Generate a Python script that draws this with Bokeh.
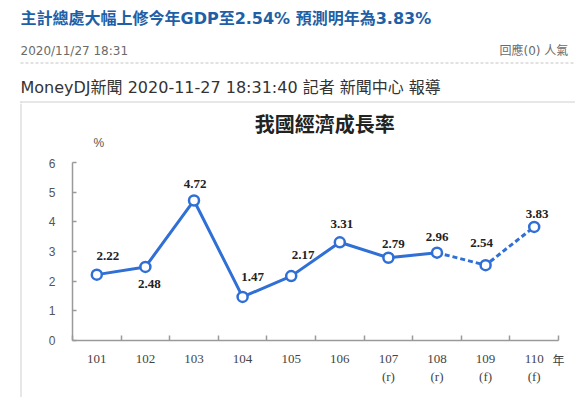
from bokeh.plotting import figure
from bokeh.layouts import column, row
from bokeh.models import Range1d, FixedTicker, Label, BoxAnnotation, ColumnDataSource
from bokeh.core.properties import value
from bokeh.embed import file_html
from bokeh.resources import INLINE

# ---- data ----
years = ["101", "102", "103", "104", "105", "106", "107", "108", "109", "110"]
status = ["", "", "", "", "", "", "r", "r", "f", "f"]   # r = revised, f = forecast
growth = [2.22, 2.48, 4.72, 1.47, 2.17, 3.31, 2.79, 2.96, 2.54, 3.83]
y_ticks = [0, 1, 2, 3, 4, 5, 6]

headline = "主計總處大幅上修今年GDP至2.54% 預測明年為3.83%"
post_date = "2020/11/27 18:31"
post_meta = "回應(0) 人氣"
byline = "MoneyDJ新聞 2020-11-27 18:31:40 記者 新聞中心 報導"
chart_title = "我國經濟成長率"
y_unit = "%"
x_unit = "年"

# ---- styling ----
lab_dx = [11, 4, 1, 10, 12, 2, 5, 0, -4, 3]
lab_dy = [-19, 17, -16, -20, -21, -18, -14, -16, -22, -13]

W, H = 575, 397
HDR_H = 103          # header block height
STRIP_W = 22         # strip carrying the left edge of the picture frame
TTL_H = 55           # chart-title block height
FL, FR, FT, FB = 72, 558, 162, 340   # chart frame edges on the page
BLUE = "#2f6fd6"
AXIS = "#9a9a9a"
EDGE = "#d0d0d0"
PAGE_FONT = "DejaVu Sans, Noto Sans CJK TC"

def blank(width, height, flip=True):
    f = figure(width=width, height=height, output_backend="svg", toolbar_location=None,
               x_range=Range1d(0, width),
               y_range=Range1d(height, 0) if flip else Range1d(0, height),
               x_axis_location=None, y_axis_location=None, min_border=0)
    f.grid.visible = False
    f.outline_line_color = None
    return f

def put(f, x, y, text, size, color, font=PAGE_FONT, style="normal", align="left"):
    f.add_layout(Label(x=x, y=y, text=text, text_font=font, text_font_size=size,
                       text_color=color, text_font_style=style,
                       text_align=align, text_baseline="middle"))

# ---------------- header ----------------
hdr = blank(W, HDR_H)
put(hdr, 20, 18, headline, "16px", "#1f5fa6", style="bold")
put(hdr, 20, 50, post_date, "12px", "#6a6a6a")
put(hdr, 499, 50, post_meta, "12px", "#6a6a6a")
put(hdr, 20, 87, byline, "16px", "#333333")
hdr.segment(x0=[20], y0=[62.5], x1=[W], y1=[62.5], line_color="#c4c4c4", line_width=1, line_dash="3 2")
hdr.add_layout(BoxAnnotation(left=20, right=W, bottom=HDR_H - 2, top=HDR_H - 1,
                             fill_color=EDGE, fill_alpha=1, line_alpha=0))
hdr.add_layout(BoxAnnotation(left=20, right=21, bottom=HDR_H - 2, top=HDR_H,
                             fill_color=EDGE, fill_alpha=1, line_alpha=0))

# ---------------- left strip (frame edge of the picture) ----------------
CH = H - HDR_H
strip = blank(STRIP_W, CH, flip=False)
strip.add_layout(BoxAnnotation(left=20, right=21, bottom=0, top=CH,
                               fill_color=EDGE, fill_alpha=1, line_alpha=0))

# ---------------- chart title block ----------------
ttl = blank(W - STRIP_W, TTL_H)
put(ttl, 309 - STRIP_W, 123 - HDR_H, chart_title, "20px", "#222222",
    font="Noto Sans CJK TC", style="bold", align="center")
put(ttl, 52 - STRIP_W, 142 - HDR_H, y_unit, "12px", "#555555",
    font="Liberation Sans", align="center")

# ---------------- chart ----------------
xs = list(range(1, len(years) + 1))
tick_text = {x: (y if s == "" else f"{y}\n({s})") for x, y, s in zip(xs, years, status)}

p = figure(width=W - STRIP_W, height=CH - TTL_H, output_backend="svg", toolbar_location=None,
           title=None,
           x_range=Range1d(0.5, len(years) + 0.5), y_range=Range1d(0, 6),
           min_border_left=FL - STRIP_W, min_border_right=W - FR,
           min_border_top=FT - HDR_H - TTL_H, min_border_bottom=H - FB)
p.outline_line_color = None
p.grid.visible = False

xa = p.xaxis[0]
xa.ticker = FixedTicker(ticks=xs, minor_ticks=[x + 0.5 for x in range(0, len(years) + 1)])
xa.major_label_overrides = tick_text
xa.axis_line_color = AXIS
xa.axis_line_width = 1.5
xa.major_tick_in = 0
xa.major_tick_out = 0
xa.minor_tick_in = 5
xa.minor_tick_out = 0
xa.minor_tick_line_color = AXIS
xa.minor_tick_line_width = 1.5
xa.major_label_text_font = "Liberation Serif"
xa.major_label_text_font_size = "13px"
xa.major_label_text_color = "#444444"
xa.major_label_standoff = 10
xa.axis_label = x_unit
xa.axis_label_align = "end"
xa.axis_label_text_align = "left"
xa.axis_label_standoff = -36
xa.axis_label_text_font = "Noto Sans CJK TC"
xa.axis_label_text_font_size = "12px"
xa.axis_label_text_font_style = "normal"
xa.axis_label_text_color = "#444444"

ya = p.yaxis[0]
ya.ticker = FixedTicker(ticks=y_ticks)
ya.axis_line_color = AXIS
ya.axis_line_width = 1.5
ya.major_tick_in = 4
ya.major_tick_out = 0
ya.major_tick_line_color = AXIS
ya.major_tick_line_width = 1.5
ya.minor_tick_in = 0
ya.minor_tick_out = 0
ya.major_label_text_font = "Liberation Sans"
ya.major_label_text_font_size = "12px"
ya.major_label_text_color = "#555555"
ya.major_label_standoff = 17

last_actual = max(i for i, s in enumerate(status) if s != "f")
p.line(xs[:last_actual + 1], growth[:last_actual + 1], line_color=BLUE, line_width=3)
p.line(xs[last_actual:], growth[last_actual:], line_color=BLUE, line_width=3, line_dash="5 3")
p.scatter(xs, growth, size=10, fill_color="white", line_color=BLUE, line_width=2.5)

src = ColumnDataSource(dict(x=xs, y=growth, t=[f"{v:.2f}" for v in growth], dx=lab_dx, dy=lab_dy))
p.text(x="x", y="y", text="t", x_offset="dx", y_offset="dy", source=src,
       text_font=value("Liberation Serif"), text_font_style="bold", text_font_size="13px",
       text_align="center", text_baseline="middle", text_color="#222222")

layout = column(hdr, row(strip, column(ttl, p)))
open("out.html", "w").write(file_html(layout, INLINE))
